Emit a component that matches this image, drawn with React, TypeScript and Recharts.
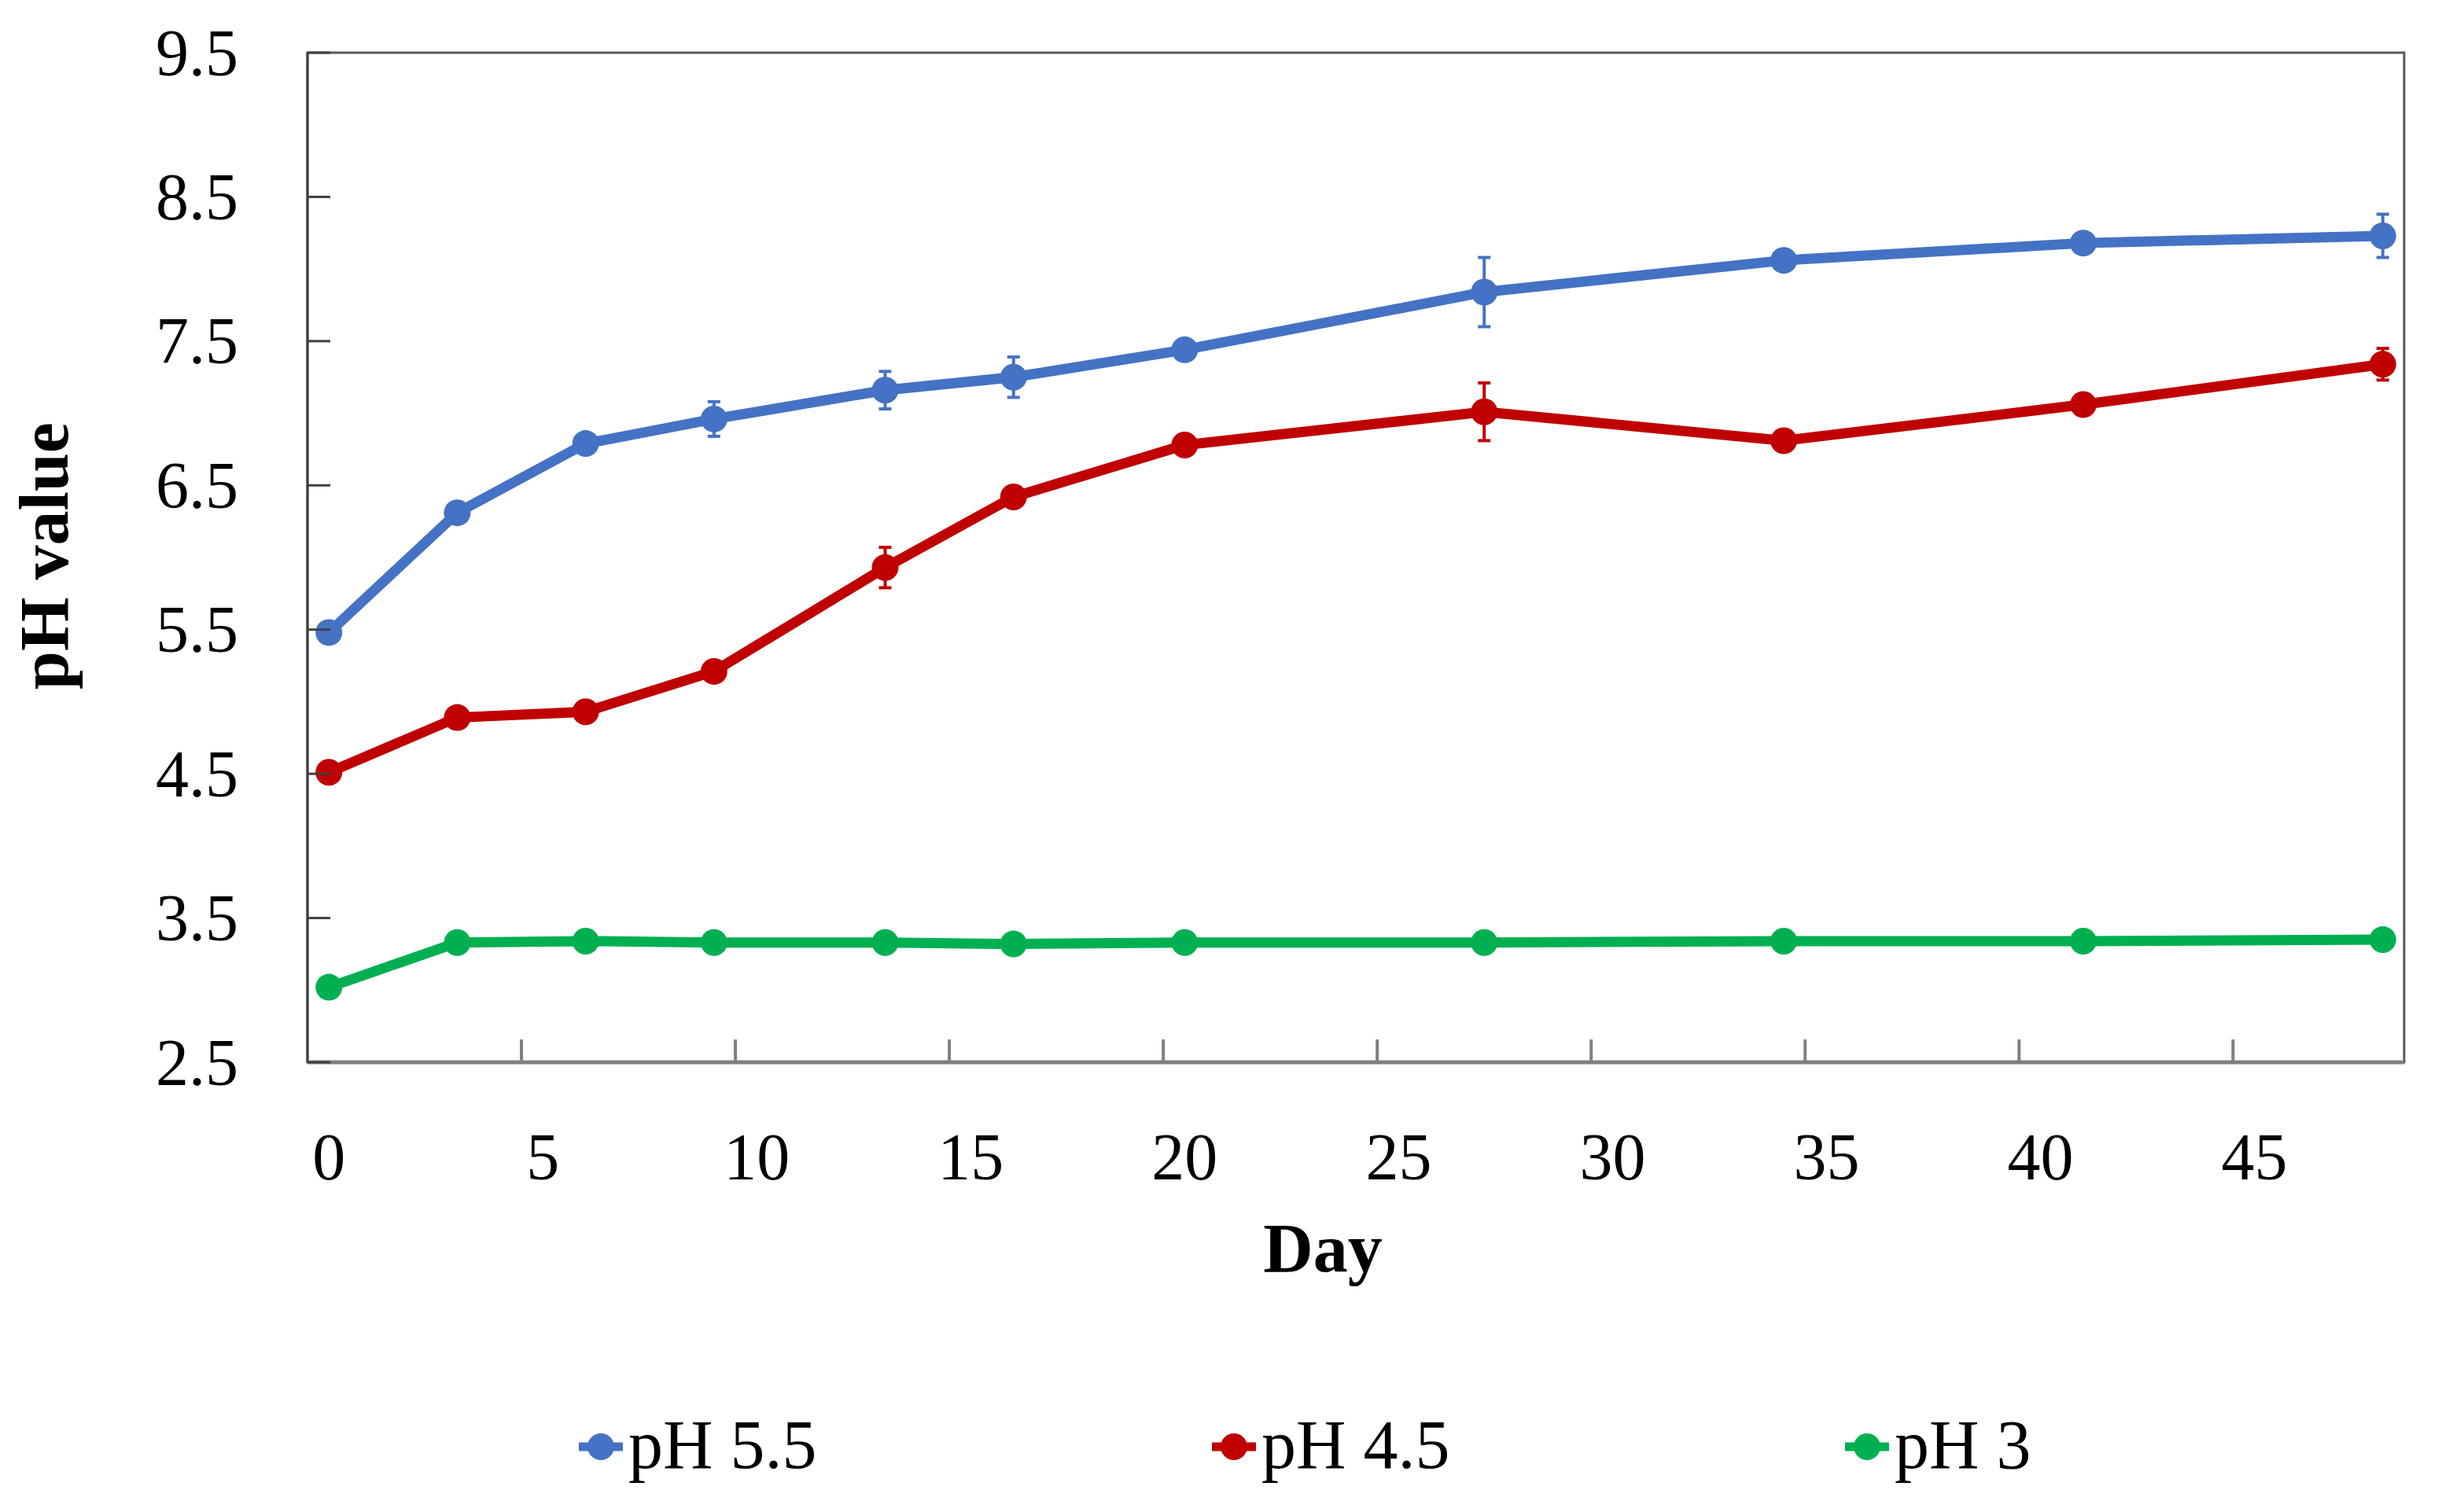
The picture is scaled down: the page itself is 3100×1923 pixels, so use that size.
import React from "react";
import {
  LineChart,
  Line,
  XAxis,
  YAxis,
  ErrorBar,
  Legend,
  ReferenceArea,
  Label,
} from "recharts";

// ---- data ----
const days = [0, 3, 6, 9, 13, 16, 20, 27, 34, 41, 48];
const ph55 = [5.48, 6.31, 6.79, 6.96, 7.16, 7.25, 7.44, 7.84, 8.06, 8.18, 8.23];
const ph55Err = [0.02, 0.03, 0.03, 0.12, 0.13, 0.14, 0.04, 0.24, 0.03, 0.03, 0.15];
const ph45 = [4.51, 4.89, 4.93, 5.21, 5.93, 6.42, 6.78, 7.01, 6.81, 7.06, 7.34];
const ph45Err = [0.02, 0.03, 0.03, 0.05, 0.14, 0.05, 0.03, 0.2, 0.03, 0.03, 0.11];
const ph3 = [3.02, 3.33, 3.34, 3.33, 3.33, 3.32, 3.33, 3.33, 3.34, 3.34, 3.35];
const ph3Err = [0.02, 0.02, 0.02, 0.02, 0.02, 0.02, 0.02, 0.02, 0.02, 0.02, 0.02];

const xLabelTicks = [0, 5, 10, 15, 20, 25, 30, 35, 40, 45];
const xMarkTicks = [4.5, 9.5, 14.5, 19.5, 24.5, 29.5, 34.5, 39.5, 44.5];
const yTicks = [2.5, 3.5, 4.5, 5.5, 6.5, 7.5, 8.5, 9.5];
const xDomain = [-0.5, 48.5];
const yDomain = [2.5, 9.5];

const seriesNames = ["pH 5.5", "pH 4.5", "pH 3"];
const seriesColors = ["#4472C4", "#C00000", "#00B050"];

const data = days.map((d, i) => ({
  day: d,
  a: ph55[i],
  aErr: ph55Err[i],
  b: ph45[i],
  bErr: ph45Err[i],
  c: ph3[i],
  cErr: ph3Err[i],
}));

const FONT = '"Liberation Serif", "Times New Roman", serif';

const XTick = (props: any) => {
  const { x, y, payload } = props;
  const v = payload.value;
  if (xLabelTicks.includes(v)) {
    return (
      <text x={x} y={y + 149} textAnchor="middle" fontSize={84} fontFamily={FONT} fill="#000">
        {v}
      </text>
    );
  }
  return <line x1={x} x2={x} y1={y} y2={y - 29} stroke="#7f7f7f" strokeWidth={4} />;
};

const YTick = (props: any) => {
  const { x, y, payload } = props;
  return (
    <g>
      <line x1={x} x2={x + 29} y1={y} y2={y} stroke="#404040" strokeWidth={3} />
      <text x={x - 88} y={y} dy="0.34em" textAnchor="end" fontSize={84} fontFamily={FONT} fill="#000">
        {Number(payload.value).toFixed(1)}
      </text>
    </g>
  );
};

const YTitle = (props: any) => {
  const vb = props.viewBox;
  return (
    <text
      transform={`translate(${vb.x + 86}, ${vb.y + vb.height / 2 - 2}) rotate(-90)`}
      textAnchor="middle"
      fontSize={88}
      fontWeight="bold"
      fontFamily={FONT}
      fill="#000"
    >
      pH value
    </text>
  );
};

const XTitle = (props: any) => {
  const vb = props.viewBox;
  return (
    <text
      x={vb.x + vb.width / 2 - 42}
      y={vb.y + 266}
      textAnchor="middle"
      fontSize={88}
      fontWeight="bold"
      fontFamily={FONT}
      fill="#000"
    >
      Day
    </text>
  );
};

const LEGEND_H = 200;

const renderLegend = (props: any) => {
  const payload = [...(props.payload || [])].sort(
    (p: any, q: any) => seriesNames.indexOf(p.value) - seriesNames.indexOf(q.value)
  );
  return (
    <div style={{ width: 3057, height: LEGEND_H, position: "relative" }}>
      <svg width={3057} height={LEGEND_H}>
        {payload.map((p: any, i: number) => {
          const cx = 764 + i * 805;
          const cy = 117;
          return (
            <g key={i}>
              <line x1={cx - 28} x2={cx + 28} y1={cy} y2={cy} stroke={p.color} strokeWidth={11} />
              <circle cx={cx} cy={cy} r={17} fill={p.color} />
              <text x={cx + 35} y={144} fontSize={88} fontFamily={FONT} fill="#000">
                {p.value}
              </text>
            </g>
          );
        })}
      </svg>
    </div>
  );
};

export default function App() {
  const keys = ["a", "b", "c"];
  return (
    <div style={{ position: "absolute", left: 0, top: 0, width: 3100, height: 1923, background: "#fff" }}>
      <LineChart
        width={3100}
        height={1923}
        data={data}
        margin={{ top: 67, right: 43, left: 0, bottom: 0 }}
      >
        <ReferenceArea
          x1={xDomain[0]}
          x2={xDomain[1]}
          y1={yDomain[0]}
          y2={yDomain[1]}
          fill="none"
          stroke="#595959"
          strokeWidth={3}
          ifOverflow="visible"
        />
        <XAxis
          type="number"
          dataKey="day"
          domain={xDomain}
          ticks={[...xLabelTicks, ...xMarkTicks]}
          interval={0}
          allowDataOverflow
          tickLine={false}
          tickSize={0}
          tickMargin={0}
          tick={<XTick />}
          axisLine={{ stroke: "#7f7f7f", strokeWidth: 5 }}
          height={1923 - 1351 - LEGEND_H}
        >
          <Label content={<XTitle />} />
        </XAxis>
        <YAxis
          type="number"
          domain={yDomain}
          ticks={yTicks}
          interval={0}
          allowDataOverflow
          tickLine={false}
          tickSize={0}
          tickMargin={0}
          tick={<YTick />}
          axisLine={{ stroke: "#404040", strokeWidth: 3 }}
          width={391}
        >
          <Label content={<YTitle />} />
        </YAxis>
        <Legend verticalAlign="bottom" height={LEGEND_H} content={renderLegend} />
        {keys.map((k, i) => (
          <Line
            key={k}
            type="linear"
            dataKey={k}
            name={seriesNames[i]}
            stroke={seriesColors[i]}
            strokeWidth={13}
            dot={{ r: 17, fill: seriesColors[i], stroke: seriesColors[i], strokeWidth: 0 }}
            activeDot={false}
            isAnimationActive={false}
          >
            <ErrorBar
              dataKey={k + "Err"}
              direction="y"
              width={8}
              strokeWidth={4}
              stroke={seriesColors[i]}
              isAnimationActive={false}
            />
          </Line>
        ))}
      </LineChart>
    </div>
  );
}
